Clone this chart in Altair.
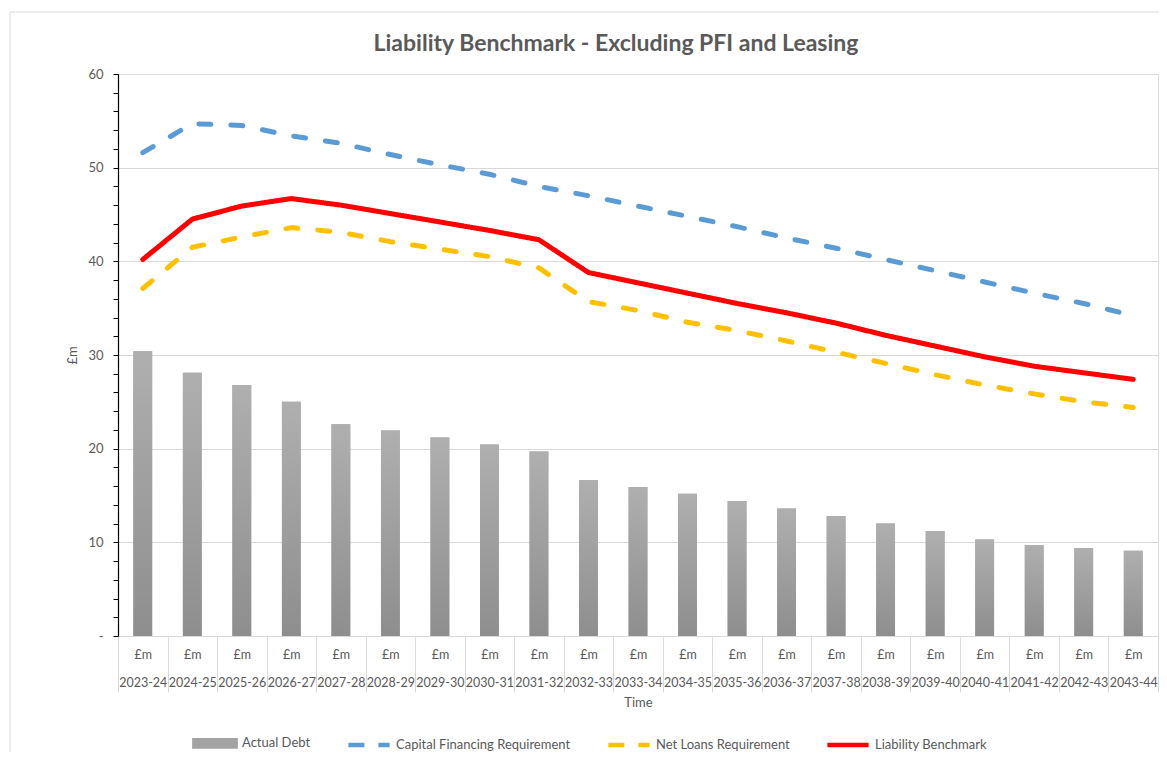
import altair as alt
import pandas as pd

years = ["2023-24", "2024-25", "2025-26", "2026-27", "2027-28", "2028-29", "2029-30",
         "2030-31", "2031-32", "2032-33", "2033-34", "2034-35", "2035-36", "2036-37",
         "2037-38", "2038-39", "2039-40", "2040-41", "2041-42", "2042-43", "2043-44"]
actual_debt = [30.4, 28.1, 26.8, 25.0, 22.6, 21.95, 21.2, 20.45, 19.7, 16.65, 15.9,
               15.2, 14.4, 13.6, 12.8, 12.0, 11.2, 10.3, 9.7, 9.4, 9.1]
capital_financing = [51.6, 54.7, 54.5, 53.4, 52.6, 51.4, 50.3, 49.3, 48.0, 47.0, 45.9,
                     44.8, 43.7, 42.5, 41.4, 40.2, 39.0, 37.8, 36.6, 35.5, 34.2]
net_loans = [37.1, 41.5, 42.6, 43.6, 43.1, 42.1, 41.3, 40.5, 39.3, 35.7, 34.75,
             33.5, 32.6, 31.5, 30.3, 29.1, 27.9, 26.8, 25.85, 25.0, 24.4]
liability_benchmark = [40.2, 44.5, 45.9, 46.7, 46.0, 45.1, 44.2, 43.3, 42.3, 38.8, 37.7,
                       36.6, 35.5, 34.5, 33.4, 32.1, 30.95, 29.8, 28.8, 28.1, 27.4]

series_names = ["Actual Debt", "Capital Financing Requirement",
                "Net Loans Requirement", "Liability Benchmark"]
series_colors = ["#a3a3a3", "#5b9bd5", "#ffc000", "#ff0000"]
line_names = series_names[1:]

bars_df = pd.DataFrame({"Year": years, "Value": actual_debt, "Series": "Actual Debt"})
lines_df = pd.concat([
    pd.DataFrame({"Year": years, "Value": capital_financing, "Series": line_names[0]}),
    pd.DataFrame({"Year": years, "Value": net_loans, "Series": line_names[1]}),
    pd.DataFrame({"Year": years, "Value": liability_benchmark, "Series": line_names[2]}),
], ignore_index=True)

FONT = "Lato"
TEXT = "#595959"
GRID = "#d9d9d9"

x_enc = alt.X(
    "Year:N", sort=years, title="Time",
    scale=alt.Scale(paddingInner=0, paddingOuter=0),
    axis=alt.Axis(
        labelExpr="datum.label ? ['£m', datum.label] : ''", labelAngle=0, labelBaseline="top",
        labelPadding=-44, labelLineHeight=28, labelFontSize=12.5, labelColor=TEXT,
        labelFont=FONT, labelOverlap=False, tickBand="extent", tickSize=56,
        tickColor=GRID, domainColor=GRID, grid=False,
        titleFont=FONT, titleFontSize=13, titleFontWeight="normal", titleColor=TEXT,
        titlePadding=4,
    ),
)
y_enc = alt.Y(
    "Value:Q", title="£m",
    scale=alt.Scale(domain=[0, 60], nice=False),
    axis=alt.Axis(
        values=list(range(0, 61, 2)),
        labelExpr="datum.value == 0 ? '-' : (datum.value % 10 == 0 ? datum.label : '')",
        tickSize=5, tickColor="black", domainColor="black", domainWidth=1.2,
        labelPadding=10, labelFontSize=13, labelColor=TEXT, labelFont=FONT,
        gridColor=GRID,
        gridOpacity={"condition": {"test": "datum.value % 10 === 0 && datum.value > 0", "value": 1}, "value": 0},
        titleFont=FONT, titleFontSize=13, titleFontWeight="normal", titleColor=TEXT,
        titlePadding=8,
    ),
)

color_enc = alt.Color(
    "Series:N",
    scale=alt.Scale(domain=series_names, range=series_colors),
    legend=alt.Legend(
        orient="none", legendX=74, legendY=646, direction="horizontal", title=None,
        labelFont=FONT, labelFontSize=13, labelColor=TEXT, labelOffset=4,
        labelLimit=400, columnPadding=28, symbolSize=1700, symbolStrokeWidth=4.5,
        symbolType=alt.ExprRef("datum.value === 'Actual Debt' ? 'M-1,-0.15H1V0.15H-1Z' : 'stroke'"),
        symbolDash=alt.ExprRef("(datum.value === 'Capital Financing Requirement' || datum.value === 'Net Loans Requirement') ? [16, 14] : [1, 0]"),
        symbolFillColor=alt.ExprRef("datum.value === 'Actual Debt' ? '#a3a3a3' : 'transparent'"),
        symbolStrokeColor=alt.ExprRef("datum.value === 'Actual Debt' ? 'transparent' : scale('color', datum.value)"),
    ),
)

frame = alt.Chart(alt.Data(values=[{}])).mark_rect(
    filled=False, stroke=GRID, strokeWidth=1
).encode(
    x=alt.value(-108), x2=alt.value(1100), y=alt.value(-62), y2=alt.value(800)
)

bar_key = alt.Chart(bars_df).mark_bar(width=alt.RelativeBandSize(0.38)).encode(
    x=x_enc, y=y_enc, color=color_enc
)

bar_fill = alt.Chart(bars_df).mark_bar(
    width=alt.RelativeBandSize(0.38),
    color=alt.LinearGradient(
        gradient="linear", x1=0, x2=0, y1=0, y2=1,
        stops=[alt.GradientStop(color="#afafaf", offset=0),
               alt.GradientStop(color="#8e8e8e", offset=1)],
    ),
).encode(x=x_enc, y=y_enc)

lines = alt.Chart(lines_df).mark_line(strokeCap="round", strokeJoin="round").encode(
    x=x_enc, y=y_enc, color=color_enc,
    strokeDash=alt.StrokeDash("Series:N", legend=None,
                              scale=alt.Scale(domain=line_names, range=[[12, 20], [12, 20], [1, 0]])),
    strokeWidth=alt.StrokeWidth("Series:N", legend=None,
                                scale=alt.Scale(domain=line_names, range=[5, 5, 4])),
    order=alt.Order("Series:N"),
)

chart = alt.layer(frame, bar_key, bar_fill, lines).properties(
    width=1040, height=562,
    autosize=alt.AutoSizeParams(type="none"),
    padding={"left": 110, "top": 66, "right": 1, "bottom": 116},
    title=alt.TitleParams(
        "Liability Benchmark - Excluding PFI and Leasing", font=FONT, fontSize=23,
        fontWeight="bold", color=TEXT, anchor="middle", dx=-22, offset=0, dy=44,
    ),
).configure_view(stroke=None).configure(background="white")

chart.save("out.html", embed_options={"renderer": "svg", "actions": False})
